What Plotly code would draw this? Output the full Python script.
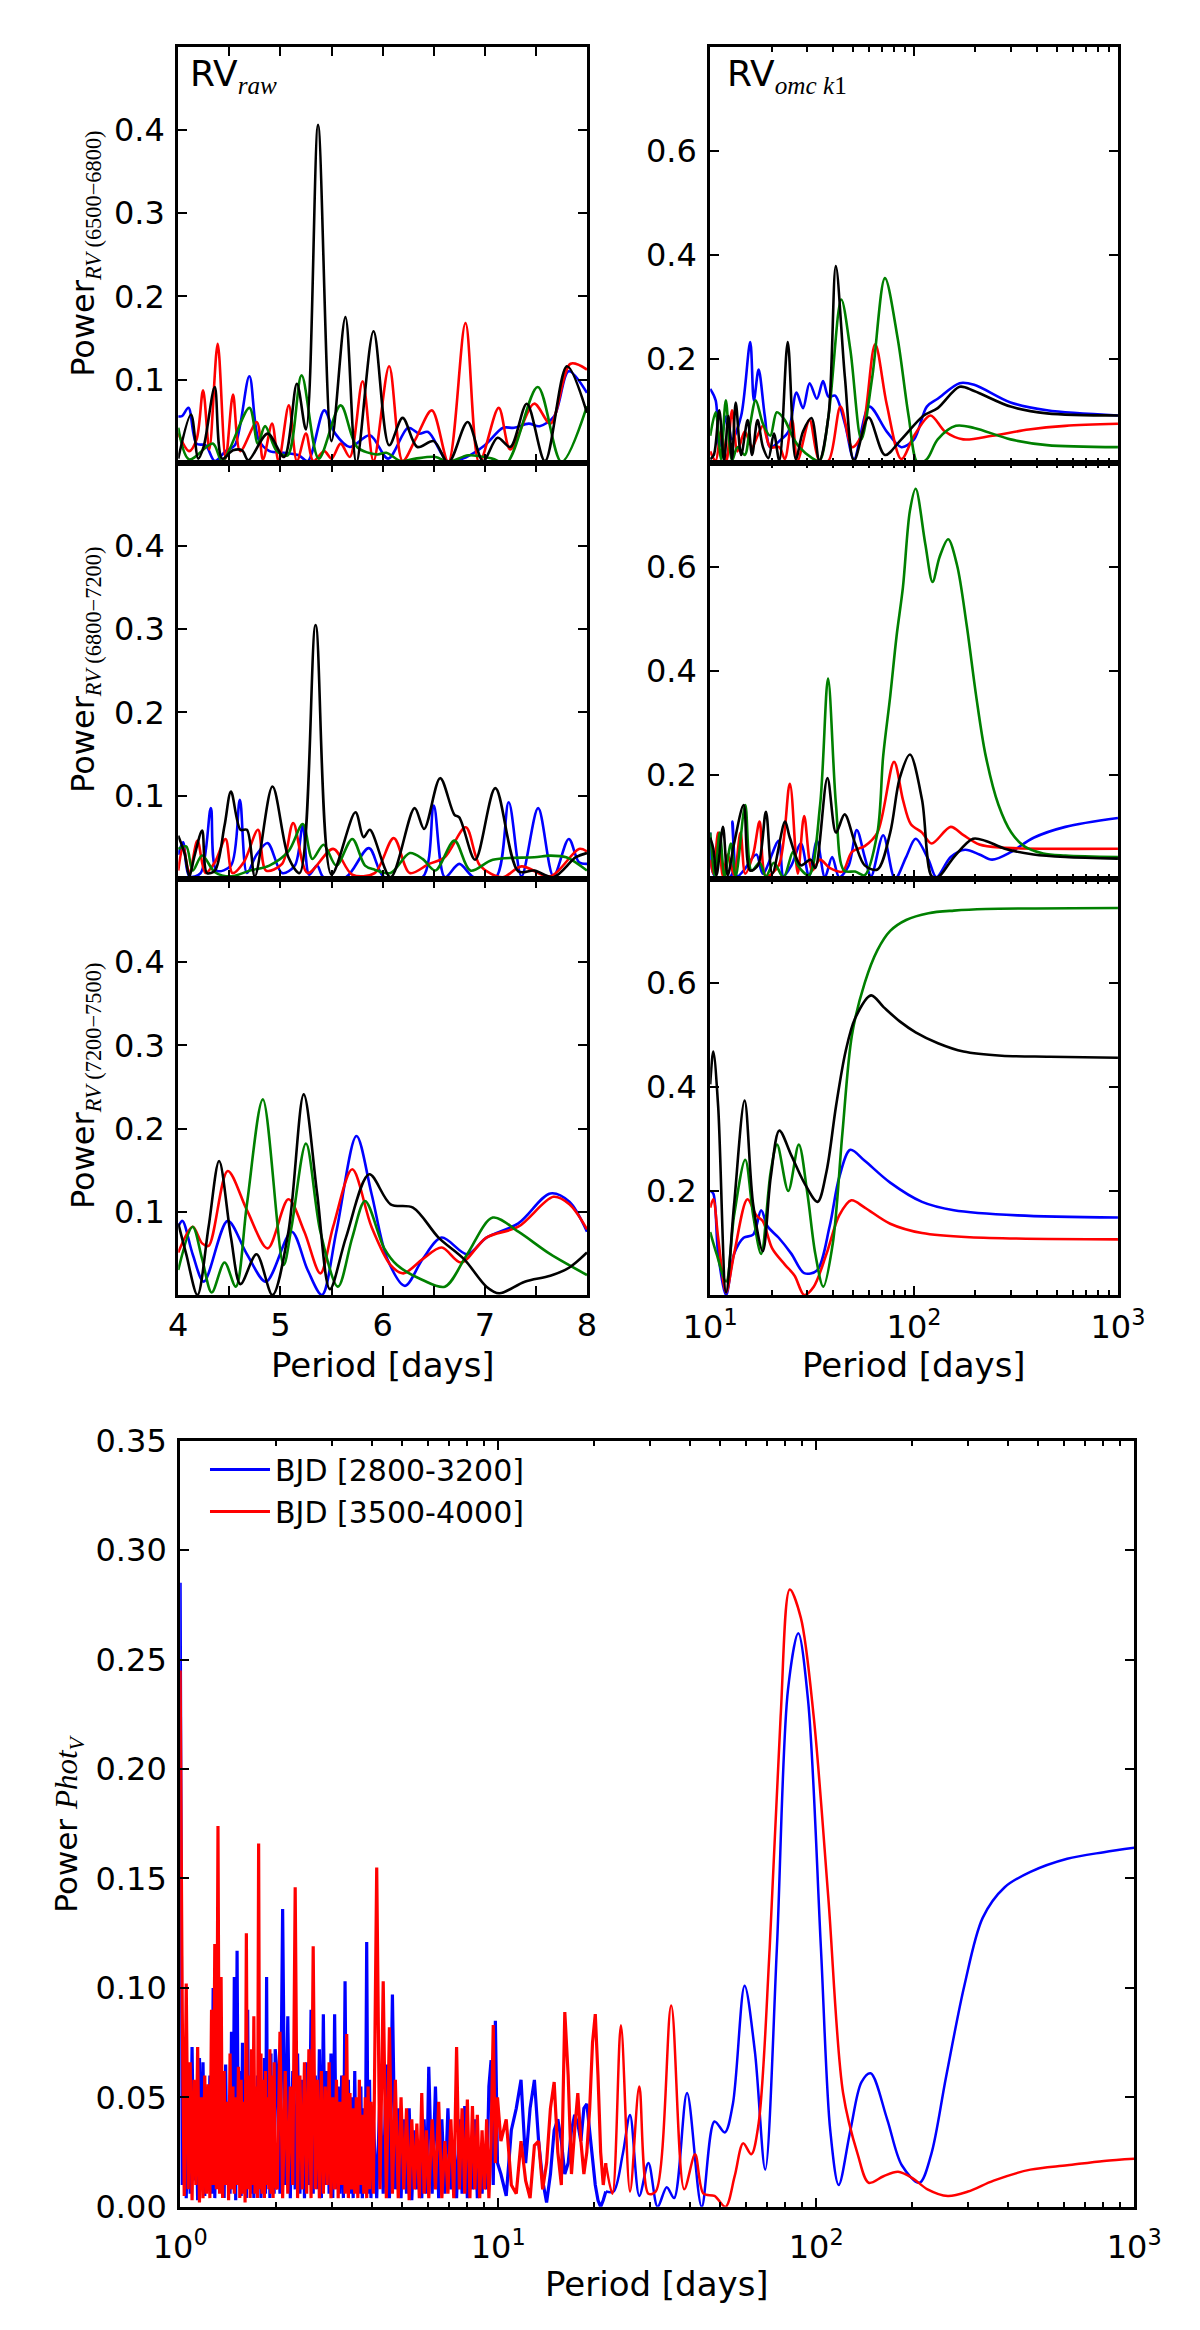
import plotly.graph_objects as go

# ---------------- DATA ----------------
# Left column: RV_raw periodograms, period 4-8 d
raw1_black_p = [4.0,4.125,4.196,4.25,4.357,4.43,4.536,4.625,4.686,4.875,5.036,5.161,5.25,5.368,5.5,5.636,5.743,5.911,6.064,6.196,6.339,6.5,6.643,6.832,6.982,7.125,7.25,7.411,7.589,7.804,8.0]
raw1_black_v = [0.005,0.058,0.005,0.02,0.091,0.005,0.015,0.015,0.003,0.035,0.007,0.095,0.04,0.406,0.026,0.175,0.0,0.158,0.021,0.054,0.019,0.026,0.0,0.049,0.002,0.030,0.019,0.071,0.002,0.116,0.06]
raw1_blue_p = [4.0,4.036,4.1,4.179,4.268,4.357,4.464,4.554,4.696,4.786,4.893,5.036,5.179,5.268,5.429,5.536,5.679,5.875,6.054,6.25,6.357,6.446,6.643,6.821,7.0,7.179,7.286,7.429,7.536,7.679,7.821,8.0]
raw1_blue_v = [0.056,0.056,0.066,0.023,0.021,0.002,0.014,0.021,0.104,0.028,0.014,0.012,0.009,0.002,0.063,0.035,0.019,0.033,0.005,0.042,0.035,0.037,0.001,0.007,0.021,0.042,0.042,0.047,0.044,0.056,0.110,0.084]
raw1_red_p = [4.0,4.107,4.179,4.243,4.304,4.386,4.464,4.536,4.607,4.768,4.829,4.918,4.982,5.082,5.161,5.25,5.321,5.429,5.5,5.589,5.679,5.804,5.911,6.064,6.196,6.321,6.482,6.643,6.811,6.946,7.136,7.25,7.482,7.643,7.839,8.0]
raw1_red_v = [0.035,0.014,0.028,0.087,0.016,0.143,0.005,0.082,0.014,0.049,0.004,0.047,0.002,0.069,0.002,0.035,0.002,0.014,0.005,0.023,0.007,0.098,0.002,0.116,0.002,0.028,0.063,0.001,0.168,0.0,0.066,0.016,0.071,0.047,0.119,0.112]
raw1_green_p = [4.0,4.107,4.339,4.429,4.696,4.779,4.85,4.964,5.071,5.207,5.375,5.589,5.75,5.946,6.036,6.179,6.321,6.518,6.643,6.839,7.071,7.214,7.518,7.75,8.0]
raw1_green_v = [0.042,0.004,0.023,0.002,0.066,0.023,0.044,0.014,0.009,0.105,0.005,0.069,0.019,0.010,0.012,0.002,0.005,0.007,0.001,0.009,0.005,0.0,0.091,0.001,0.068]

raw2_black_p = [4.0,4.063,4.109,4.156,4.234,4.281,4.359,4.453,4.516,4.609,4.672,4.75,4.922,5.078,5.188,5.344,5.5,5.734,5.813,5.875,6.078,6.313,6.406,6.563,6.703,6.75,6.906,7.103,7.328,7.484,7.672,7.891,8.0]
raw2_black_v = [0.052,0.030,0.003,0.026,0.058,0.007,0.010,0.064,0.105,0.059,0.059,0.003,0.111,0.026,0.007,0.305,0.005,0.080,0.050,0.059,0.002,0.085,0.060,0.121,0.077,0.074,0.023,0.109,0.009,0.010,0.002,0.026,0.031]
raw2_blue_p = [4.0,4.047,4.109,4.219,4.319,4.375,4.516,4.603,4.672,4.766,4.875,5.016,5.141,5.219,5.281,5.359,5.422,5.641,5.866,6.016,6.391,6.5,6.609,6.75,6.891,7.109,7.234,7.359,7.522,7.672,7.822,7.922,8.0]
raw2_blue_v = [0.029,0.044,0.003,0.007,0.085,0.010,0.016,0.095,0.007,0.029,0.043,0.007,0.016,0.064,0.005,0.016,0.002,0.002,0.037,0.002,0.002,0.088,0.002,0.018,0.002,0.002,0.092,0.003,0.085,0.003,0.048,0.020,0.018]
raw2_red_p = [4.0,4.047,4.109,4.188,4.266,4.359,4.463,4.531,4.641,4.781,4.859,5.016,5.125,5.266,5.516,5.703,5.922,6.109,6.266,6.453,6.609,6.813,6.953,7.172,7.359,7.641,7.922,8.0]
raw2_red_v = [0.010,0.039,0.007,0.046,0.007,0.020,0.048,0.007,0.020,0.059,0.010,0.018,0.067,0.007,0.036,0.005,0.007,0.049,0.007,0.018,0.026,0.062,0.016,0.002,0.015,0.003,0.036,0.033]
raw2_green_p = [4.0,4.078,4.141,4.234,4.359,4.516,4.703,4.891,5.078,5.219,5.313,5.422,5.547,5.703,5.828,5.922,6.078,6.266,6.391,6.516,6.703,6.859,7.078,7.484,7.641,7.797,8.0]
raw2_green_v = [0.036,0.039,0.010,0.028,0.008,0.003,0.010,0.016,0.033,0.066,0.024,0.041,0.016,0.048,0.016,0.011,0.007,0.031,0.024,0.010,0.046,0.010,0.023,0.026,0.028,0.026,0.010]

raw3_black_p = [4.0,4.078,4.188,4.297,4.400,4.516,4.609,4.766,4.922,5.078,5.228,5.359,5.484,5.641,5.869,6.078,6.297,6.547,6.797,7.016,7.141,7.391,7.641,7.828,8.0]
raw3_black_v = [0.086,0.049,0.0,0.082,0.161,0.069,0.013,0.049,0.0,0.076,0.241,0.122,0.007,0.069,0.145,0.109,0.105,0.069,0.043,0.010,0.002,0.016,0.023,0.033,0.051]
raw3_blue_p = [4.0,4.041,4.141,4.25,4.484,4.672,4.859,5.109,5.266,5.406,5.547,5.744,5.891,6.047,6.219,6.391,6.578,6.828,7.016,7.328,7.641,7.828,8.0]
raw3_blue_v = [0.082,0.089,0.049,0.016,0.089,0.049,0.016,0.076,0.030,0.0,0.076,0.191,0.122,0.043,0.011,0.043,0.069,0.049,0.069,0.086,0.122,0.112,0.076]
raw3_red_p = [4.0,4.141,4.234,4.297,4.484,4.672,4.875,5.078,5.234,5.391,5.516,5.703,5.891,6.078,6.203,6.391,6.578,6.766,7.016,7.328,7.672,7.828,8.0]
raw3_red_v = [0.051,0.082,0.062,0.059,0.149,0.102,0.056,0.115,0.076,0.026,0.082,0.151,0.082,0.036,0.026,0.043,0.057,0.039,0.069,0.082,0.118,0.109,0.079]
raw3_green_p = [4.0,4.141,4.234,4.328,4.453,4.563,4.672,4.828,5.031,5.109,5.250,5.391,5.563,5.703,5.828,6.016,6.141,6.391,6.609,6.828,7.078,7.328,7.641,8.0]
raw3_green_v = [0.030,0.082,0.043,0.003,0.039,0.010,0.109,0.235,0.036,0.082,0.182,0.076,0.010,0.069,0.113,0.056,0.036,0.018,0.010,0.049,0.093,0.076,0.049,0.024]

# Right column: RV_omc k1 periodograms, period 10-1000 d
omc1_blue_p = [10,10.64,11.08,12.03,12.80,14.18,15.72,16.38,17.28,18.53,19.71,22.29,24.20,26.50,28.53,30.73,33.36,35.78,38.05,40.98,45.79,50.75,60.32,73.46,86.60,100,115.5,130.6,167.2,197.1,297.3,448.4,1000]
omc1_blue_v = [0.142,0.120,0.030,0.090,0.045,0.090,0.232,0.120,0.179,0.090,0.030,0.045,0.060,0.135,0.105,0.153,0.123,0.157,0.127,0.129,0.075,0.007,0.108,0.060,0.030,0.045,0.108,0.123,0.153,0.150,0.116,0.101,0.091]
omc1_black_p = [10,10.42,11.08,11.69,12.28,12.80,13.34,14.18,15.27,16.05,17.07,18.15,19.31,20.53,21.84,24.01,26.28,28.53,31.37,34.33,38.05,41.32,45.79,50.75,59.82,71.96,86.60,110.8,130.6,167.2,197.1,297.3,448.4,1000]
omc1_black_v = [0.007,0.015,0.101,0.004,0.090,0.007,0.116,0.015,0.082,0.015,0.082,0.030,0.009,0.056,0.004,0.232,0.007,0.060,0.086,0.004,0.090,0.378,0.164,0.004,0.087,0.015,0.045,0.090,0.105,0.146,0.138,0.108,0.095,0.091]
omc1_red_p = [10,10.64,11.31,12.03,12.80,13.61,14.77,16.05,17.07,18.15,19.71,21.84,23.23,25.22,26.83,30.73,34.33,38.05,43.58,49.71,55.10,64.41,73.46,86.60,100,120.3,141.8,174.2,242.0,365.1,551.0,1000]
omc1_red_v = [0.022,0.004,0.060,0.004,0.101,0.022,0.060,0.030,0.052,0.071,0.030,0.030,0.007,0.082,0.004,0.082,0.004,0.004,0.108,0.030,0.052,0.228,0.112,0.007,0.052,0.091,0.060,0.045,0.052,0.064,0.071,0.075]
omc1_green_p = [10,10.64,11.31,11.93,12.80,13.61,14.77,15.72,16.72,18.15,19.71,21.22,23.23,25.22,27.38,31.62,34.33,38.05,43.94,48.70,55.10,62.32,71.96,83.10,94.01,104.2,115.5,130.6,160.5,197.1,297.3,448.4,1000]
omc1_green_v = [0.052,0.097,0.007,0.120,0.004,0.030,0.015,0.075,0.120,0.075,0.052,0.097,0.082,0.052,0.030,0.009,0.004,0.090,0.314,0.217,0.045,0.164,0.355,0.239,0.090,0.0,0.007,0.045,0.071,0.067,0.045,0.034,0.030]

omc2_blue_p = [10,10.55,12.64,12.86,13.58,14.59,16.85,18.11,21.68,22.88,25.03,27.87,30.51,33.38,36.52,39.66,42.93,47.83,52.36,57.27,61.54,70.54,80.61,91.41,101.8,117.6,128.6,151.2,177.8,209.1,241.5,299.8,385.5,552.3,1000]
omc2_blue_v = [0.089,0.005,0.005,0.110,0.005,0.016,0.047,0.010,0.073,0.005,0.026,0.068,0.005,0.073,0.003,0.042,0.003,0.026,0.094,0.042,0.005,0.084,0.0,0.042,0.077,0.037,0.003,0.042,0.056,0.047,0.037,0.052,0.079,0.100,0.117]
omc2_black_p = [10,10.36,10.75,11.55,12.18,13.10,14.59,15.68,17.16,18.77,20.17,23.29,24.58,27.87,31.06,32.78,37.58,41.41,45.64,51.39,57.27,66.12,76.37,85.07,95.43,109.4,121.9,131.0,156.8,194.5,224.7,278.8,385.5,552.3,1000]
omc2_black_v = [0.079,0.058,0.007,0.100,0.007,0.068,0.142,0.016,0.026,0.129,0.010,0.110,0.079,0.026,0.037,0.021,0.194,0.089,0.124,0.068,0.026,0.018,0.089,0.194,0.239,0.152,0.005,0.003,0.042,0.077,0.073,0.058,0.047,0.042,0.039]
omc2_red_p = [10,10.36,10.94,11.55,12.18,13.10,14.08,14.86,16.25,17.47,18.77,21.68,24.58,26.90,28.90,31.62,34.60,38.54,44.51,49.58,57.27,66.12,79.74,88.19,96.47,109.4,121.9,151.2,174.7,209.1,269.0,1000]
omc2_red_v = [0.037,0.010,0.089,0.005,0.047,0.007,0.089,0.010,0.047,0.110,0.005,0.026,0.183,0.010,0.121,0.016,0.037,0.021,0.014,0.052,0.063,0.089,0.225,0.152,0.105,0.089,0.068,0.100,0.084,0.066,0.060,0.058]
omc2_green_p = [10,10.55,11.14,11.76,12.64,13.34,14.86,15.96,17.47,18.77,20.54,22.88,25.48,26.90,30.51,34.60,37.85,41.41,45.32,51.39,57.27,66.12,70.54,76.37,82.07,88.19,95.43,101.8,113.4,123.2,133.4,146.9,162.5,181.1,201.7,224.7,259.5,299.8,346.0,429.5,552.3,1000]
omc2_green_v = [0.089,0.005,0.089,0.005,0.068,0.005,0.142,0.016,0.031,0.005,0.031,0.003,0.052,0.026,0.007,0.142,0.385,0.142,0.016,0.014,0.007,0.089,0.236,0.351,0.467,0.561,0.708,0.750,0.645,0.571,0.619,0.653,0.603,0.488,0.351,0.236,0.142,0.089,0.063,0.049,0.045,0.042]

omc3_blue_p = [10,10.36,10.94,11.97,13.10,14.59,16.25,17.78,19.11,21.68,25.03,28.90,33.38,38.54,42.93,48.70,57.27,76.37,109.4,156.8,322.0,1000]
omc3_blue_v = [0.200,0.195,0.079,0.0,0.079,0.110,0.116,0.163,0.132,0.110,0.079,0.042,0.047,0.132,0.226,0.279,0.258,0.216,0.179,0.163,0.153,0.149]
omc3_black_p = [10,10.36,10.94,11.97,13.10,14.75,16.25,18.11,19.81,21.83,25.03,28.90,33.62,37.18,41.41,46.14,51.39,61.54,71.06,85.07,101.8,131.0,174.7,269.0,461.3,1000]
omc3_black_v = [0.405,0.468,0.363,0.005,0.174,0.374,0.174,0.084,0.226,0.316,0.268,0.216,0.179,0.237,0.363,0.468,0.532,0.576,0.553,0.526,0.505,0.484,0.468,0.460,0.458,0.456]
omc3_red_p = [10,10.36,10.94,11.97,13.10,15.23,16.85,18.11,20.17,23.29,25.95,28.90,32.20,37.18,42.93,49.23,57.27,76.37,109.4,187.7,1000]
omc3_red_v = [0.168,0.184,0.110,0.005,0.079,0.184,0.153,0.142,0.089,0.058,0.037,0.0,0.016,0.079,0.153,0.182,0.168,0.137,0.119,0.111,0.107]
omc3_green_p = [10,10.75,11.97,13.10,14.86,16.25,17.78,19.81,21.29,24.15,27.20,29.97,32.78,35.86,39.96,44.51,49.58,57.27,66.12,76.37,91.41,117.6,156.8,224.7,1000]
omc3_green_v = [0.121,0.079,0.026,0.153,0.260,0.153,0.079,0.237,0.289,0.200,0.289,0.195,0.079,0.016,0.100,0.311,0.500,0.600,0.663,0.700,0.721,0.734,0.739,0.742,0.744]

# Bottom: photometry periodograms, period 1-1000 d
phot_dense_p = [1.000,1.015,1.030,1.045,1.060,1.075,1.090,1.105,1.120,1.135,1.150,1.165,1.180,1.195,1.210,1.225,1.240,1.255,1.270,1.285,
                1.300,1.315,1.330,1.345,1.360,1.375,1.390,1.405,1.420,1.435,1.450,1.465,1.480,1.495,1.510,1.525,1.540,1.555,1.570,1.585,
                1.600,1.615,1.630,1.645,1.660,1.675,1.690,1.705,1.720,1.735,1.750,1.765,1.780,1.795,1.810,1.825,1.840,1.855,1.870,1.885,
                1.900,1.915,1.930,1.945,1.960,1.975,1.990,
                2.02,2.06,2.10,2.14,2.18,2.22,2.26,2.30,2.34,2.38,2.42,2.46,2.50,2.54,2.58,2.62,2.66,2.70,2.74,2.78,
                2.82,2.86,2.90,2.94,2.98,3.02,3.06,3.10,3.14,3.18,3.22,3.26,3.30,3.34,3.38,3.42,3.46,3.50,3.54,3.58,
                3.62,3.66,3.70,3.74,3.78,3.82,3.86,3.90,3.94,3.98,
                4.05,4.15,4.25,4.35,4.45,4.55,4.65,4.75,4.85,4.95,5.05,5.15,5.25,5.35,5.45,5.55,5.65,5.75,5.85,5.95,
                6.05,6.20,6.35,6.50,6.65,6.80,6.95,7.10,7.25,7.40,7.55,7.70,7.85,8.00,8.15,8.30,8.45,8.60,8.75,8.90,
                9.05,9.20,9.35,9.50,9.65,9.80,9.95,
                10.2,10.6,11.0,11.4,11.8,12.2,12.6,13.0,13.4,13.8,14.2,14.6,15.0,15.4,15.8,16.2,16.6,17.0,17.4,17.8,
                18.2,18.6,19.0,19.4,19.8,20.2,20.6,21.0,21.4,21.8]
phot_blue_dense = [0.285,0.010,0.060,0.004,0.048,0.006,0.073,0.012,0.050,0.003,0.068,0.008,0.066,0.005,0.045,0.010,0.060,0.006,0.100,0.004,
                   0.055,0.010,0.105,0.008,0.058,0.004,0.065,0.010,0.048,0.006,0.080,0.008,0.105,0.003,0.117,0.010,0.062,0.005,0.075,0.008,
                   0.058,0.004,0.090,0.010,0.052,0.006,0.070,0.004,0.048,0.008,0.060,0.010,0.066,0.004,0.054,0.008,0.068,0.006,0.105,0.010,
                   0.060,0.004,0.070,0.008,0.052,0.006,0.072,
                   0.060,0.006,0.136,0.010,0.087,0.004,0.062,0.008,0.070,0.006,0.058,0.004,0.066,0.010,0.090,0.006,0.060,0.008,0.072,0.004,
                   0.088,0.010,0.062,0.006,0.070,0.004,0.088,0.008,0.055,0.006,0.060,0.004,0.103,0.010,0.058,0.006,0.050,0.004,0.062,0.008,
                   0.048,0.006,0.055,0.004,0.045,0.010,0.121,0.006,0.058,0.004,
                   0.040,0.004,0.052,0.006,0.065,0.004,0.097,0.008,0.045,0.004,0.040,0.006,0.045,0.003,0.035,0.008,0.030,0.004,0.040,0.006,
                   0.064,0.006,0.055,0.004,0.040,0.006,0.045,0.008,0.030,0.004,0.040,0.006,0.046,0.004,0.030,0.008,0.040,0.004,0.025,0.006,
                   0.028,0.008,0.055,0.067,0.010,0.085,0.020,
                   0.015,0.005,0.035,0.045,0.058,0.020,0.045,0.058,0.030,0.012,0.002,0.015,0.035,0.040,0.030,0.015,0.020,0.035,0.042,0.038,
                   0.030,0.045,0.047,0.035,0.020,0.010,0.003,0.000,0.003,0.007]
phot_red_dense = [0.245,0.090,0.005,0.102,0.008,0.066,0.003,0.058,0.010,0.073,0.002,0.050,0.004,0.060,0.006,0.056,0.004,0.090,0.010,0.120,
                  0.008,0.174,0.006,0.105,0.004,0.062,0.010,0.048,0.003,0.070,0.008,0.055,0.006,0.050,0.010,0.064,0.004,0.058,0.006,0.048,
                  0.002,0.125,0.008,0.060,0.004,0.072,0.010,0.087,0.006,0.055,0.004,0.166,0.008,0.070,0.006,0.058,0.004,0.062,0.010,0.050,
                  0.008,0.072,0.006,0.060,0.004,0.066,0.010,
                  0.008,0.080,0.004,0.062,0.006,0.055,0.010,0.146,0.004,0.060,0.008,0.066,0.006,0.072,0.004,0.119,0.008,0.058,0.004,0.062,
                  0.006,0.055,0.010,0.066,0.004,0.050,0.008,0.058,0.004,0.048,0.010,0.060,0.006,0.079,0.004,0.052,0.008,0.045,0.006,0.050,
                  0.004,0.058,0.010,0.042,0.006,0.050,0.004,0.055,0.008,0.048,
                  0.006,0.155,0.008,0.103,0.004,0.082,0.006,0.058,0.004,0.050,0.008,0.045,0.003,0.040,0.008,0.038,0.004,0.052,0.006,0.035,
                  0.004,0.040,0.008,0.048,0.004,0.030,0.006,0.040,0.004,0.073,0.008,0.045,0.006,0.049,0.004,0.046,0.008,0.042,0.004,0.035,
                  0.008,0.040,0.004,0.030,0.083,0.020,0.050,
                  0.030,0.040,0.010,0.006,0.030,0.012,0.004,0.028,0.030,0.008,0.020,0.045,0.057,0.025,0.010,0.089,0.060,0.015,0.035,0.052,
                  0.030,0.015,0.025,0.045,0.075,0.088,0.060,0.025,0.010,0.020]
phot_blue_tail_p = [23.06,24.64,25.98,27.78,29.68,31.72,33.89,35.74,39.25,43.64,47.88,51.59,54.70,59.55,64.15,69.14,75.22,81.50,87.82,94.34,
                    103.5,110.7,117.7,128.1,138.8,148.3,167.2,185.9,211.2,230.0,255.8,292.3,333.8,391.5,471.7,615.5,802.9,1000]
phot_blue_tail = [0.007,0.024,0.042,0.005,0.020,0.000,0.009,0.004,0.052,0.000,0.039,0.034,0.047,0.101,0.071,0.017,0.118,0.236,0.262,0.231,
                  0.118,0.035,0.010,0.035,0.057,0.061,0.040,0.019,0.011,0.024,0.059,0.101,0.132,0.146,0.153,0.159,0.162,0.164]
phot_red_tail_p = [22.87,24.32,25.98,27.78,29.68,31.30,35.0,38.46,41.62,44.22,47.88,51.86,55.42,58.93,62.5,65.9,71.4,77.3,82.6,89.5,
                   98.2,109.2,121.5,135.1,146.3,162.8,181.0,201.3,223.9,259.3,300.1,361.4,471.7,615.5,802.9,1000]
phot_red_tail = [0.006,0.083,0.007,0.055,0.006,0.007,0.092,0.008,0.024,0.006,0.005,0.000,0.014,0.029,0.024,0.038,0.118,0.224,0.282,0.269,
                 0.224,0.141,0.052,0.024,0.011,0.014,0.016,0.013,0.008,0.005,0.007,0.012,0.017,0.019,0.021,0.022]

# tick labels
left_x_ticks = [4, 5, 6, 7, 8]
left_x_labels = ["4", "5", "6", "7", "8"]
left_x_minor = [4.5, 5.5, 6.5, 7.5]
left_y_ticks = [0.1, 0.2, 0.3, 0.4]
left_y_labels = ["0.1", "0.2", "0.3", "0.4"]
right_y_ticks = [0.2, 0.4, 0.6]
right_y_labels = ["0.2", "0.4", "0.6"]
log_major_r = [10, 100, 1000]
log_labels_r = ["10<sup>1</sup>", "10<sup>2</sup>", "10<sup>3</sup>"]
log_minor_r = [20, 30, 40, 50, 60, 70, 80, 90, 200, 300, 400, 500, 600, 700, 800, 900]
log_major_b = [1, 10, 100, 1000]
log_labels_b = ["10<sup>0</sup>", "10<sup>1</sup>", "10<sup>2</sup>", "10<sup>3</sup>"]
log_minor_b = [2, 3, 4, 5, 6, 7, 8, 9] + log_minor_r
bot_y_ticks = [0.0, 0.05, 0.10, 0.15, 0.20, 0.25, 0.30, 0.35]
bot_y_labels = ["0.00", "0.05", "0.10", "0.15", "0.20", "0.25", "0.30", "0.35"]
legend_names = ["BJD [2800-3200]", "BJD [3500-4000]"]

# ---------------- FIGURE ----------------
W, H = 1200, 2330
BLUE, RED, GREEN, BLACK = "#0000ff", "#ff0000", "#008000", "#000000"
LW = 2.6

fig = go.Figure()

def add(ax, x, y, color, shape="spline", name=None, legend=False, width=LW):
    fig.add_trace(go.Scatter(
        x=x, y=y, mode="lines", name=name, showlegend=legend,
        line=dict(color=color, width=width, shape=shape, smoothing=0.9 if shape == "spline" else None),
        xaxis="x" + ("" if ax == 1 else str(ax)), yaxis="y" + ("" if ax == 1 else str(ax)),
        hoverinfo="skip"))

panels = [
    (1, raw1_blue_p, raw1_blue_v, raw1_red_p, raw1_red_v, raw1_green_p, raw1_green_v, raw1_black_p, raw1_black_v),
    (2, raw2_blue_p, raw2_blue_v, raw2_red_p, raw2_red_v, raw2_green_p, raw2_green_v, raw2_black_p, raw2_black_v),
    (3, raw3_blue_p, raw3_blue_v, raw3_red_p, raw3_red_v, raw3_green_p, raw3_green_v, raw3_black_p, raw3_black_v),
    (4, omc1_blue_p, omc1_blue_v, omc1_red_p, omc1_red_v, omc1_green_p, omc1_green_v, omc1_black_p, omc1_black_v),
    (5, omc2_blue_p, omc2_blue_v, omc2_red_p, omc2_red_v, omc2_green_p, omc2_green_v, omc2_black_p, omc2_black_v),
    (6, omc3_blue_p, omc3_blue_v, omc3_red_p, omc3_red_v, omc3_green_p, omc3_green_v, omc3_black_p, omc3_black_v),
]
for ax, bp, bv, rp, rv, gp, gv, kp, kv in panels:
    add(ax, bp, bv, BLUE)
    add(ax, rp, rv, RED)
    add(ax, gp, gv, GREEN)
    add(ax, kp, kv, BLACK)

# bottom panel
add(7, phot_dense_p, phot_blue_dense, BLUE, shape="linear", name=legend_names[0], legend=True, width=3.2)
add(7, [phot_dense_p[-1]] + phot_blue_tail_p, [phot_blue_dense[-1]] + phot_blue_tail, BLUE, width=2.5)
add(7, phot_dense_p, phot_red_dense, RED, shape="linear", name=legend_names[1], legend=True, width=3.2)
add(7, [phot_dense_p[-1]] + phot_red_tail_p, [phot_red_dense[-1]] + phot_red_tail, RED, width=2.5)

def ydom(top, bot):
    return [1 - bot / H, 1 - top / H]

LX = [150 / W, 578 / W]
RX = [707 / W, 1134 / W]
BX = [152 / W, 1151 / W]
P1, P2, P3 = ydom(20, 443), ydom(443, 866), ydom(866, 1289)
PB = ydom(1437, 2216)

TF = dict(family="DejaVu Sans", size=32, color="black")
MINOR = dict(ticks="inside", ticklen=5, tickwidth=1.5, tickcolor="black", showgrid=False)
base = dict(showline=True, linecolor="black", linewidth=3, mirror="ticks", ticks="inside",
            ticklen=9, tickwidth=1.5, tickcolor="black", showgrid=False, zeroline=False,
            tickfont=TF)

lay = {}
for i, (xd, yd, kind) in enumerate([(LX, P1, "L"), (LX, P2, "L"), (LX, P3, "L"),
                                     (RX, P1, "R"), (RX, P2, "R"), (RX, P3, "R"),
                                     (BX, PB, "B")], start=1):
    sx = "" if i == 1 else str(i)
    xa = dict(base, domain=xd, anchor="y" + sx)
    ya = dict(base, domain=yd, anchor="x" + sx)
    if kind == "L":
        xa.update(range=[4, 8], tickmode="array", tickvals=left_x_ticks, ticktext=left_x_labels,
                  showticklabels=(i == 3), ticklabelstandoff=0,
                  minor=dict(MINOR, tickmode="array", tickvals=left_x_minor, ticklen=9))
        ya.update(range=[0, 0.5], tickmode="array", tickvals=left_y_ticks, ticktext=left_y_labels,
                  ticklabelstandoff=4)
    elif kind == "R":
        xa.update(type="log", range=[1, 3], tickmode="array", tickvals=log_major_r, ticktext=log_labels_r,
                  showticklabels=(i == 6), ticklabelstandoff=2,
                  minor=dict(MINOR, tickmode="array", tickvals=log_minor_r))
        ya.update(range=[0, 0.8], tickmode="array", tickvals=right_y_ticks, ticktext=right_y_labels,
                  ticklabelstandoff=4)
    else:
        xa.update(type="log", range=[0, 3], tickmode="array", tickvals=log_major_b, ticktext=log_labels_b,
                  ticklabelstandoff=10, tickfont=dict(TF, size=32),
                  minor=dict(MINOR, tickmode="array", tickvals=log_minor_b))
        ya.update(range=[0, 0.35], tickmode="array", tickvals=bot_y_ticks, ticktext=bot_y_labels,
                  ticklabelstandoff=4, tickfont=dict(TF, size=32))
    lay["xaxis" + sx] = xa
    lay["yaxis" + sx] = ya

SERIF = "Liberation Serif"
def ann(text, x, y, size, angle=0, xanchor="center", yanchor="middle"):
    return dict(text=text, x=x / W, y=1 - y / H, xref="paper", yref="paper", showarrow=False,
                xanchor=xanchor, yanchor=yanchor, textangle=angle,
                font=dict(family="DejaVu Sans", size=size, color="black"))

def sub(t):
    return '<sub><span style="font-family:%s">%s</span></sub>' % (SERIF, t)

annotations = [
    ann("RV" + sub("<i>raw</i>"), 160, 24, 36, xanchor="left", yanchor="top"),
    ann("RV" + sub("<i>omc k</i>1"), 722, 24, 36, xanchor="left", yanchor="top"),
    ann("Power" + sub("<i>RV</i> (6500\u22126800)"), 53, 231, 32, angle=-90),
    ann("Power" + sub("<i>RV</i> (6800\u22127200)"), 53, 654, 32, angle=-90),
    ann("Power" + sub("<i>RV</i> (7200\u22127500)"), 53, 1077, 32, angle=-90),
    ann("Period [days]", 364, 1360, 34),
    ann("Period [days]", 920, 1360, 34),
    ann("Period [days]", 651, 2294, 34),
    ann('Power <span style="font-family:%s"><i>Phot</i><sub><i>V</i></sub></span>' % SERIF, 35, 1826, 31, angle=-90),
]

fig.update_layout(
    width=W, height=H, margin=dict(l=0, r=0, t=0, b=0),
    paper_bgcolor="white", plot_bgcolor="white",
    showlegend=True,
    legend=dict(x=178 / W, y=1 - 1440 / H, xanchor="left", yanchor="top",
                font=dict(family="DejaVu Sans", size=30, color="black"),
                bgcolor="rgba(0,0,0,0)", borderwidth=0, itemwidth=60),
    annotations=annotations,
    **lay,
)

fig.write_html("out.html")
